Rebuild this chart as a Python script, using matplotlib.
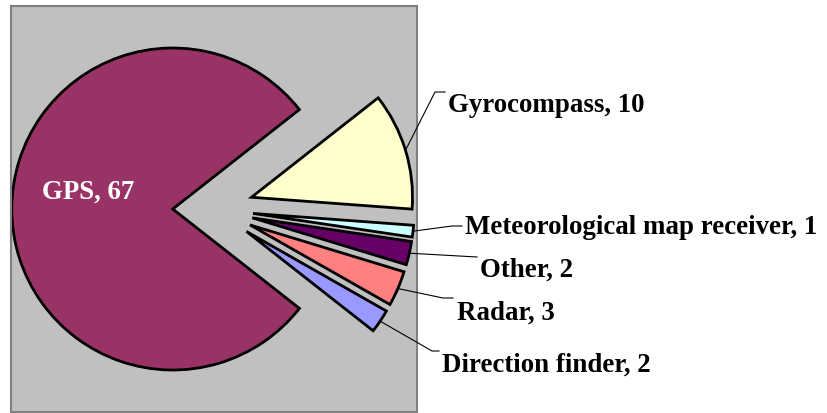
import numpy as np
import matplotlib
matplotlib.use("Agg")
import matplotlib.pyplot as plt

# Navigation equipment counts
categories = ["GPS", "Gyrocompass", "Meteorological map receiver", "Other", "Radar", "Direction finder"]
counts = [67, 10, 1, 2, 3, 2]
colors = ["#993366", "#FFFFCC", "#CCFFFF", "#660066", "#FF8080", "#9999FF"]

W, H = 828, 414
fig = plt.figure(figsize=(W / 100, H / 100), dpi=100)
fig.patch.set_facecolor("white")

# Plot area in pixel units (y measured upward)
x0, x1 = 10.7, 416.7
y0, y1 = 1.3, 406.7
ax = fig.add_axes([x0 / W, y0 / H, (x1 - x0) / W, (y1 - y0) / H])
ax.set_facecolor("#C0C0C0")

radius = 161
center = (213, 204)
wedges, _ = ax.pie(counts, explode=[0.25 * radius] * len(counts), radius=radius, center=center,
                   startangle=-38.1, counterclock=False, colors=colors, frame=True,
                   wedgeprops=dict(edgecolor="black", linewidth=2.0))
ax.set_aspect("auto")
ax.set_xlim(x0, x1)
ax.set_ylim(y0, y1)
ax.set_xticks([])
ax.set_yticks([])
for sp in ax.spines.values():
    sp.set_color("#808080")
    sp.set_linewidth(1.5)

font = dict(family=["Liberation Serif", "DejaVu Serif"], fontweight="bold", fontsize=19.4)

# Label for the large slice sits inside it
ax.text(42, 222, f"{categories[0]}, {counts[0]}", color="white", ha="left", va="center",
        **font)

# Outside labels: (elbow point, line end, label anchor) per small slice, in pixel units
layout = {
    1: ((435, 321), (445, 321), (448, 308)),
    2: ((452, 187), (462, 187), (465, 186)),
    3: ((477, 156), (477, 156), (480, 144)),
    4: ((443, 115), (453, 115), (457, 101)),
    5: ((432, 62), (439, 62), (442, 49)),
}
for i, (elbow, end, anchor) in layout.items():
    w = wedges[i]
    mid = np.deg2rad((w.theta1 + w.theta2) / 2)
    cx, cy = w.center
    sx, sy = cx + w.r * np.cos(mid), cy + w.r * np.sin(mid)
    ax.plot([sx, elbow[0], end[0]], [sy, elbow[1], end[1]], color="black", lw=0.8,
            clip_on=False, zorder=5)
    ax.text(anchor[0], anchor[1], f"{categories[i]}, {counts[i]}", ha="left", va="center",
            clip_on=False, **font)

fig.savefig("out.png", dpi=100, facecolor="white")
